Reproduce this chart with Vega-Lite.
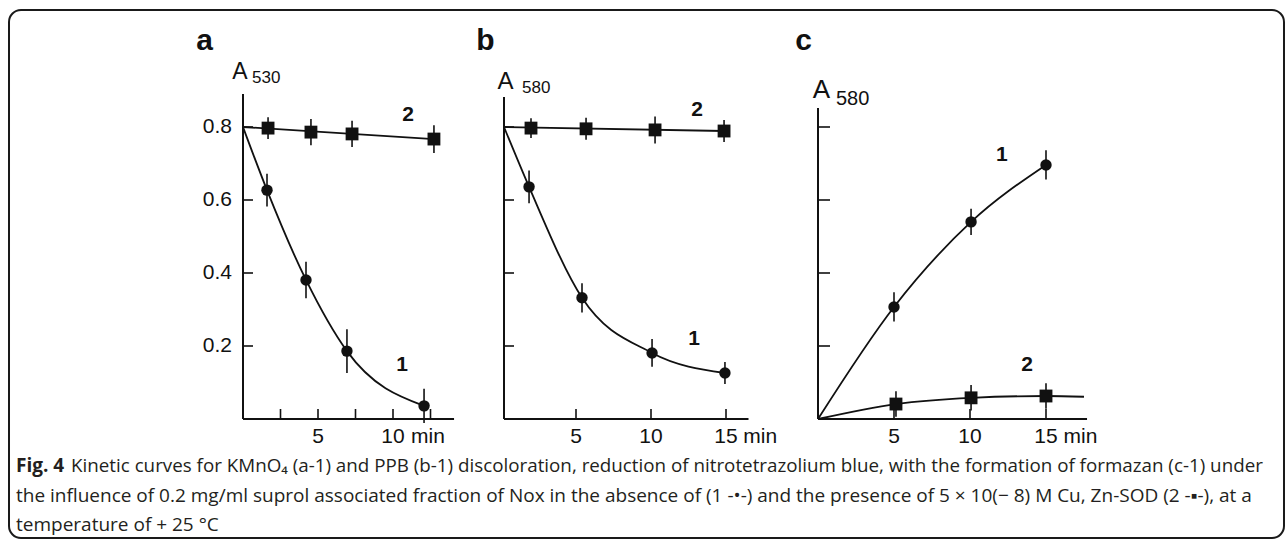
{
  "$schema": "https://vega.github.io/schema/vega-lite/v6.json",
  "background": "white",
  "padding": {"left": 8, "top": 9, "right": 0, "bottom": 0},
  "config": {
    "view": {"stroke": null},
    "axis": {"grid": false, "domain": false, "ticks": false},
    "text": {"font": "Liberation Sans", "color": "#111"}
  },
  "datasets": {
    "pts": [
      {"panel": "a", "series": 1, "t": 1.6, "v": 0.627, "err": 0.045},
      {"panel": "a", "series": 1, "t": 4.2, "v": 0.381, "err": 0.05},
      {"panel": "a", "series": 1, "t": 6.93, "v": 0.186, "err": 0.06},
      {"panel": "a", "series": 1, "t": 12.07, "v": 0.036, "err": 0.047},
      {"panel": "a", "series": 2, "t": 1.67, "v": 0.797, "err": 0.03},
      {"panel": "a", "series": 2, "t": 4.53, "v": 0.786, "err": 0.036},
      {"panel": "a", "series": 2, "t": 7.27, "v": 0.781, "err": 0.036},
      {"panel": "a", "series": 2, "t": 12.73, "v": 0.767, "err": 0.038},
      {"panel": "b", "series": 1, "t": 1.87, "v": 0.636, "err": 0.045},
      {"panel": "b", "series": 1, "t": 5.4, "v": 0.332, "err": 0.04},
      {"panel": "b", "series": 1, "t": 10.07, "v": 0.181, "err": 0.038},
      {"panel": "b", "series": 1, "t": 14.93, "v": 0.126, "err": 0.03},
      {"panel": "b", "series": 2, "t": 2.0, "v": 0.797, "err": 0.027},
      {"panel": "b", "series": 2, "t": 5.67, "v": 0.795, "err": 0.03},
      {"panel": "b", "series": 2, "t": 10.27, "v": 0.792, "err": 0.037},
      {"panel": "b", "series": 2, "t": 14.87, "v": 0.789, "err": 0.03},
      {"panel": "c", "series": 1, "t": 5.0, "v": 0.307, "err": 0.04},
      {"panel": "c", "series": 1, "t": 10.07, "v": 0.54, "err": 0.036},
      {"panel": "c", "series": 1, "t": 15.0, "v": 0.696, "err": 0.04},
      {"panel": "c", "series": 2, "t": 5.13, "v": 0.041, "err": 0.035},
      {"panel": "c", "series": 2, "t": 10.07, "v": 0.058, "err": 0.035},
      {"panel": "c", "series": 2, "t": 15.0, "v": 0.063, "err": 0.035}
    ],
    "curves": [
      {"panel": "a", "series": 1, "t": 0, "v": 0.8},
      {"panel": "a", "series": 1, "t": 1.6, "v": 0.627},
      {"panel": "a", "series": 1, "t": 4.2, "v": 0.381},
      {"panel": "a", "series": 1, "t": 6.93, "v": 0.186},
      {"panel": "a", "series": 1, "t": 12.07, "v": 0.036},
      {"panel": "a", "series": 2, "t": 0, "v": 0.8},
      {"panel": "a", "series": 2, "t": 12.73, "v": 0.767},
      {"panel": "b", "series": 1, "t": 0.2, "v": 0.8},
      {"panel": "b", "series": 1, "t": 1.87, "v": 0.636},
      {"panel": "b", "series": 1, "t": 5.4, "v": 0.332},
      {"panel": "b", "series": 1, "t": 10.07, "v": 0.181},
      {"panel": "b", "series": 1, "t": 14.93, "v": 0.126},
      {"panel": "b", "series": 2, "t": 0.2, "v": 0.8},
      {"panel": "b", "series": 2, "t": 14.87, "v": 0.789},
      {"panel": "c", "series": 1, "t": 0, "v": 0},
      {"panel": "c", "series": 1, "t": 5.0, "v": 0.307},
      {"panel": "c", "series": 1, "t": 10.07, "v": 0.54},
      {"panel": "c", "series": 1, "t": 15.0, "v": 0.696},
      {"panel": "c", "series": 2, "t": 0, "v": 0},
      {"panel": "c", "series": 2, "t": 5.13, "v": 0.041},
      {"panel": "c", "series": 2, "t": 10.07, "v": 0.058},
      {"panel": "c", "series": 2, "t": 15.0, "v": 0.063},
      {"panel": "c", "series": 2, "t": 17.5, "v": 0.061}
    ],
    "yticks": [{"v": 0.2}, {"v": 0.4}, {"v": 0.6}, {"v": 0.8}],
    "xticks": [
      {"panel": "a", "t": 2.5, "label": ""}, {"panel": "a", "t": 5, "label": "5"}, {"panel": "a", "t": 7.5, "label": ""}, {"panel": "a", "t": 10, "label": "10"}, {"panel": "a", "t": 12.5, "label": ""},
      {"panel": "b", "t": 5, "label": "5"}, {"panel": "b", "t": 10, "label": "10"}, {"panel": "b", "t": 15, "label": "15"},
      {"panel": "c", "t": 5, "label": "5"}, {"panel": "c", "t": 10, "label": "10"}, {"panel": "c", "t": 15, "label": "15"}
    ]
  },
  "bounds": "flush",
  "spacing": 0,
  "hconcat": [
    {
      "width": 496, "height": 325,
      "layer": [
        {"data": {"values": [{}]}, "mark": {"type": "rect", "filled": false, "stroke": "#1a1a1a", "strokeWidth": 2, "cornerRadius": 12},
         "encoding": {"x": {"datum": -15.6, "type": "quantitative", "scale": {"domain": [-15.667, 17.4], "nice": false, "zero": false}, "axis": null}, "x2": {"datum": 69.4},
                      "y": {"datum": 1.1205, "type": "quantitative", "scale": {"domain": [0, 0.8904], "nice": false, "zero": false}, "axis": null}, "y2": {"datum": -0.326}}},
        {"data": {"values": [{}]}, "mark": {"type": "rule", "color": "#111", "strokeWidth": 2},
         "encoding": {"x": {"datum": 0, "type": "quantitative", "axis": null}, "x2": {"datum": 14.07}, "y": {"datum": 0, "type": "quantitative", "axis": null}}},
        {"data": {"values": [{}]}, "mark": {"type": "rule", "color": "#111", "strokeWidth": 2},
         "encoding": {"x": {"datum": 0, "type": "quantitative", "axis": null}, "y": {"datum": 0, "type": "quantitative", "axis": null}, "y2": {"datum": 0.8904}}},
        {"data": {"name": "yticks"}, "mark": {"type": "rule", "color": "#111", "strokeWidth": 1.6},
         "encoding": {"x": {"datum": 0, "type": "quantitative", "axis": null}, "x2": {"datum": 0.667}, "y": {"field": "v", "type": "quantitative", "axis": null}}},
        {"data": {"name": "yticks"}, "mark": {"type": "text", "align": "right", "baseline": "middle", "dx": -11, "fontSize": 21},
         "encoding": {"x": {"datum": 0, "type": "quantitative", "axis": null}, "y": {"field": "v", "type": "quantitative", "axis": null}, "text": {"field": "v", "type": "quantitative", "format": ".1f"}}},
        {"data": {"name": "xticks"}, "transform": [{"filter": "datum.panel == 'a'"}], "mark": {"type": "rule", "color": "#111", "strokeWidth": 1.6},
         "encoding": {"x": {"field": "t", "type": "quantitative", "axis": null}, "y": {"datum": 0, "type": "quantitative", "axis": null}, "y2": {"datum": 0.0274}}},
        {"data": {"name": "xticks"}, "transform": [{"filter": "datum.panel == 'a' && datum.label != ''"}], "mark": {"type": "text", "align": "center", "baseline": "top", "dy": 7, "fontSize": 21},
         "encoding": {"x": {"field": "t", "type": "quantitative", "axis": null}, "y": {"datum": 0, "type": "quantitative", "axis": null}, "text": {"field": "label"}}},
        {"data": {"values": [{}]}, "mark": {"type": "text", "text": "min", "align": "left", "baseline": "top", "dy": 7, "fontSize": 21},
         "encoding": {"x": {"datum": 11.2, "type": "quantitative", "axis": null}, "y": {"datum": 0, "type": "quantitative", "axis": null}}},
        {"data": {"name": "curves"}, "transform": [{"filter": "datum.panel == 'a'"}], "mark": {"type": "line", "interpolate": "monotone", "color": "#111", "strokeWidth": 1.8},
         "encoding": {"x": {"field": "t", "type": "quantitative", "axis": null}, "y": {"field": "v", "type": "quantitative", "axis": null}, "detail": {"field": "series"}}},
        {"data": {"name": "pts"}, "transform": [{"filter": "datum.panel == 'a'"}], "mark": {"type": "errorbar", "color": "#111", "thickness": 1.6},
         "encoding": {"x": {"field": "t", "type": "quantitative", "axis": null}, "y": {"field": "v", "type": "quantitative", "axis": null}, "yError": {"field": "err"}}},
        {"data": {"name": "pts"}, "transform": [{"filter": "datum.panel == 'a' && datum.series == 1"}], "mark": {"type": "point", "shape": "circle", "filled": true, "size": 130, "color": "#111", "opacity": 1},
         "encoding": {"x": {"field": "t", "type": "quantitative", "axis": null}, "y": {"field": "v", "type": "quantitative", "axis": null}}},
        {"data": {"name": "pts"}, "transform": [{"filter": "datum.panel == 'a' && datum.series == 2"}], "mark": {"type": "point", "shape": "square", "filled": true, "size": 165, "color": "#111", "opacity": 1},
         "encoding": {"x": {"field": "t", "type": "quantitative", "axis": null}, "y": {"field": "v", "type": "quantitative", "axis": null}}},
        {"data": {"values": [{}]}, "mark": {"type": "text", "text": "a", "fontSize": 30, "fontWeight": "bold", "align": "center", "baseline": "alphabetic"},
         "encoding": {"x": {"datum": -2.567, "type": "quantitative", "axis": null}, "y": {"datum": 1.011, "type": "quantitative", "axis": null}}},
        {"data": {"values": [{}]}, "mark": {"type": "text", "text": "A", "fontSize": 23, "align": "center", "baseline": "alphabetic"},
         "encoding": {"x": {"datum": -0.2, "type": "quantitative", "axis": null}, "y": {"datum": 0.9315, "type": "quantitative", "axis": null}}},
        {"data": {"values": [{}]}, "mark": {"type": "text", "text": "530", "fontSize": 17, "align": "left", "baseline": "alphabetic"},
         "encoding": {"x": {"datum": 0.6, "type": "quantitative", "axis": null}, "y": {"datum": 0.9205, "type": "quantitative", "axis": null}}},
        {"data": {"values": [{}]}, "mark": {"type": "text", "text": "2", "fontSize": 21, "fontWeight": "bold", "align": "center", "baseline": "middle"},
         "encoding": {"x": {"datum": 11.0, "type": "quantitative", "axis": null}, "y": {"datum": 0.833, "type": "quantitative", "axis": null}}},
        {"data": {"values": [{}]}, "mark": {"type": "text", "text": "1", "fontSize": 21, "fontWeight": "bold", "align": "center", "baseline": "middle"},
         "encoding": {"x": {"datum": 10.6, "type": "quantitative", "axis": null}, "y": {"datum": 0.148, "type": "quantitative", "axis": null}}},
        {"data": {"values": [{}]}, "mark": {"type": "text", "text": "Fig. 4", "font": "Open Sans", "fontSize": 19, "fontWeight": "bold", "align": "left", "baseline": "middle", "color": "#231f20"},
         "encoding": {"x": {"datum": -15.133, "type": "quantitative", "axis": null}, "y": {"datum": -0.1288, "type": "quantitative", "axis": null}}},
        {"data": {"values": [{}]}, "mark": {"type": "text", "text": "Kinetic curves for KMnO₄ (a-1) and PPB (b-1) discoloration, reduction of nitrotetrazolium blue, with the formation of formazan (c-1) under", "dx": 55, "font": "Open Sans", "fontSize": 18.8, "align": "left", "baseline": "middle", "color": "#231f20"},
         "encoding": {"x": {"datum": -15.133, "type": "quantitative", "axis": null}, "y": {"datum": -0.1288, "type": "quantitative", "axis": null}}},
        {"data": {"values": [{}]}, "mark": {"type": "text", "text": "the influence of 0.2 mg/ml suprol associated fraction of Nox in the absence of (1 -•-) and the presence of 5 × 10(− 8) M Cu, Zn-SOD (2 -▪-), at a", "font": "Open Sans", "fontSize": 19, "align": "left", "baseline": "middle", "color": "#231f20"},
         "encoding": {"x": {"datum": -15.133, "type": "quantitative", "axis": null}, "y": {"datum": -0.211, "type": "quantitative", "axis": null}}},
        {"data": {"values": [{}]}, "mark": {"type": "text", "text": "temperature of + 25 °C", "font": "Open Sans", "fontSize": 19, "align": "left", "baseline": "middle", "color": "#231f20"},
         "encoding": {"x": {"datum": -15.133, "type": "quantitative", "axis": null}, "y": {"datum": -0.2904, "type": "quantitative", "axis": null}}}
      ]
    },
    {
      "width": 314, "height": 325,
      "layer": [
        {"data": {"values": [{}]}, "mark": {"type": "rule", "color": "#111", "strokeWidth": 2},
         "encoding": {"x": {"datum": 0.2, "type": "quantitative", "scale": {"domain": [0.2, 21.133], "nice": false, "zero": false}, "axis": null}, "x2": {"datum": 16.5},
                      "y": {"datum": 0, "type": "quantitative", "scale": {"domain": [0, 0.8904], "nice": false, "zero": false}, "axis": null}}},
        {"data": {"values": [{}]}, "mark": {"type": "rule", "color": "#111", "strokeWidth": 2},
         "encoding": {"x": {"datum": 0.2, "type": "quantitative", "axis": null}, "y": {"datum": 0, "type": "quantitative", "axis": null}, "y2": {"datum": 0.882}}},
        {"data": {"name": "yticks"}, "mark": {"type": "rule", "color": "#111", "strokeWidth": 1.6},
         "encoding": {"x": {"datum": 0.2, "type": "quantitative", "axis": null}, "x2": {"datum": 0.867}, "y": {"field": "v", "type": "quantitative", "axis": null}}},
        {"data": {"name": "xticks"}, "transform": [{"filter": "datum.panel == 'b'"}], "mark": {"type": "rule", "color": "#111", "strokeWidth": 1.6},
         "encoding": {"x": {"field": "t", "type": "quantitative", "axis": null}, "y": {"datum": 0, "type": "quantitative", "axis": null}, "y2": {"datum": 0.0274}}},
        {"data": {"name": "xticks"}, "transform": [{"filter": "datum.panel == 'b' && datum.label != ''"}], "mark": {"type": "text", "align": "center", "baseline": "top", "dy": 7, "fontSize": 21},
         "encoding": {"x": {"field": "t", "type": "quantitative", "axis": null}, "y": {"datum": 0, "type": "quantitative", "axis": null}, "text": {"field": "label"}}},
        {"data": {"values": [{}]}, "mark": {"type": "text", "text": "min", "align": "left", "baseline": "top", "dy": 7, "fontSize": 21},
         "encoding": {"x": {"datum": 16.15, "type": "quantitative", "axis": null}, "y": {"datum": 0, "type": "quantitative", "axis": null}}},
        {"data": {"name": "curves"}, "transform": [{"filter": "datum.panel == 'b'"}], "mark": {"type": "line", "interpolate": "monotone", "color": "#111", "strokeWidth": 1.8},
         "encoding": {"x": {"field": "t", "type": "quantitative", "axis": null}, "y": {"field": "v", "type": "quantitative", "axis": null}, "detail": {"field": "series"}}},
        {"data": {"name": "pts"}, "transform": [{"filter": "datum.panel == 'b'"}], "mark": {"type": "errorbar", "color": "#111", "thickness": 1.6},
         "encoding": {"x": {"field": "t", "type": "quantitative", "axis": null}, "y": {"field": "v", "type": "quantitative", "axis": null}, "yError": {"field": "err"}}},
        {"data": {"name": "pts"}, "transform": [{"filter": "datum.panel == 'b' && datum.series == 1"}], "mark": {"type": "point", "shape": "circle", "filled": true, "size": 130, "color": "#111", "opacity": 1},
         "encoding": {"x": {"field": "t", "type": "quantitative", "axis": null}, "y": {"field": "v", "type": "quantitative", "axis": null}}},
        {"data": {"name": "pts"}, "transform": [{"filter": "datum.panel == 'b' && datum.series == 2"}], "mark": {"type": "point", "shape": "square", "filled": true, "size": 165, "color": "#111", "opacity": 1},
         "encoding": {"x": {"field": "t", "type": "quantitative", "axis": null}, "y": {"field": "v", "type": "quantitative", "axis": null}}},
        {"data": {"values": [{}]}, "mark": {"type": "text", "text": "b", "fontSize": 30, "fontWeight": "bold", "align": "center", "baseline": "alphabetic"},
         "encoding": {"x": {"datum": -1.033, "type": "quantitative", "axis": null}, "y": {"datum": 1.011, "type": "quantitative", "axis": null}}},
        {"data": {"values": [{}]}, "mark": {"type": "text", "text": "A", "fontSize": 24, "align": "center", "baseline": "alphabetic"},
         "encoding": {"x": {"datum": 0.3, "type": "quantitative", "axis": null}, "y": {"datum": 0.904, "type": "quantitative", "axis": null}}},
        {"data": {"values": [{}]}, "mark": {"type": "text", "text": "580", "fontSize": 17, "align": "left", "baseline": "alphabetic"},
         "encoding": {"x": {"datum": 1.4, "type": "quantitative", "axis": null}, "y": {"datum": 0.893, "type": "quantitative", "axis": null}}},
        {"data": {"values": [{}]}, "mark": {"type": "text", "text": "2", "fontSize": 21, "fontWeight": "bold", "align": "center", "baseline": "middle"},
         "encoding": {"x": {"datum": 13.07, "type": "quantitative", "axis": null}, "y": {"datum": 0.847, "type": "quantitative", "axis": null}}},
        {"data": {"values": [{}]}, "mark": {"type": "text", "text": "1", "fontSize": 21, "fontWeight": "bold", "align": "center", "baseline": "middle"},
         "encoding": {"x": {"datum": 12.87, "type": "quantitative", "axis": null}, "y": {"datum": 0.219, "type": "quantitative", "axis": null}}}
      ]
    },
    {
      "width": 300, "height": 325,
      "layer": [
        {"data": {"values": [{}]}, "mark": {"type": "rule", "color": "#111", "strokeWidth": 2},
         "encoding": {"x": {"datum": 0, "type": "quantitative", "scale": {"domain": [0, 19.737], "nice": false, "zero": false}, "axis": null}, "x2": {"datum": 17.7},
                      "y": {"datum": 0, "type": "quantitative", "scale": {"domain": [0, 0.8904], "nice": false, "zero": false}, "axis": null}}},
        {"data": {"values": [{}]}, "mark": {"type": "rule", "color": "#111", "strokeWidth": 2},
         "encoding": {"x": {"datum": 0, "type": "quantitative", "axis": null}, "y": {"datum": 0, "type": "quantitative", "axis": null}, "y2": {"datum": 0.852}}},
        {"data": {"name": "yticks"}, "mark": {"type": "rule", "color": "#111", "strokeWidth": 1.6},
         "encoding": {"x": {"datum": 0, "type": "quantitative", "axis": null}, "x2": {"datum": 0.79}, "y": {"field": "v", "type": "quantitative", "axis": null}}},
        {"data": {"name": "xticks"}, "transform": [{"filter": "datum.panel == 'c'"}], "mark": {"type": "rule", "color": "#111", "strokeWidth": 1.6},
         "encoding": {"x": {"field": "t", "type": "quantitative", "axis": null}, "y": {"datum": 0, "type": "quantitative", "axis": null}, "y2": {"datum": 0.0274}}},
        {"data": {"name": "xticks"}, "transform": [{"filter": "datum.panel == 'c' && datum.label != ''"}], "mark": {"type": "text", "align": "center", "baseline": "top", "dy": 7, "fontSize": 21},
         "encoding": {"x": {"field": "t", "type": "quantitative", "axis": null}, "y": {"datum": 0, "type": "quantitative", "axis": null}, "text": {"field": "label"}}},
        {"data": {"values": [{}]}, "mark": {"type": "text", "text": "min", "align": "left", "baseline": "top", "dy": 7, "fontSize": 21},
         "encoding": {"x": {"datum": 16.15, "type": "quantitative", "axis": null}, "y": {"datum": 0, "type": "quantitative", "axis": null}}},
        {"data": {"name": "curves"}, "transform": [{"filter": "datum.panel == 'c'"}], "mark": {"type": "line", "interpolate": "monotone", "color": "#111", "strokeWidth": 1.8},
         "encoding": {"x": {"field": "t", "type": "quantitative", "axis": null}, "y": {"field": "v", "type": "quantitative", "axis": null}, "detail": {"field": "series"}}},
        {"data": {"name": "pts"}, "transform": [{"filter": "datum.panel == 'c'"}], "mark": {"type": "errorbar", "color": "#111", "thickness": 1.6},
         "encoding": {"x": {"field": "t", "type": "quantitative", "axis": null}, "y": {"field": "v", "type": "quantitative", "axis": null}, "yError": {"field": "err"}}},
        {"data": {"name": "pts"}, "transform": [{"filter": "datum.panel == 'c' && datum.series == 1"}], "mark": {"type": "point", "shape": "circle", "filled": true, "size": 130, "color": "#111", "opacity": 1},
         "encoding": {"x": {"field": "t", "type": "quantitative", "axis": null}, "y": {"field": "v", "type": "quantitative", "axis": null}}},
        {"data": {"name": "pts"}, "transform": [{"filter": "datum.panel == 'c' && datum.series == 2"}], "mark": {"type": "point", "shape": "square", "filled": true, "size": 165, "color": "#111", "opacity": 1},
         "encoding": {"x": {"field": "t", "type": "quantitative", "axis": null}, "y": {"field": "v", "type": "quantitative", "axis": null}}},
        {"data": {"values": [{}]}, "mark": {"type": "text", "text": "c", "fontSize": 30, "fontWeight": "bold", "align": "center", "baseline": "alphabetic"},
         "encoding": {"x": {"datum": -0.954, "type": "quantitative", "axis": null}, "y": {"datum": 1.011, "type": "quantitative", "axis": null}}},
        {"data": {"values": [{}]}, "mark": {"type": "text", "text": "A", "fontSize": 26, "align": "center", "baseline": "alphabetic"},
         "encoding": {"x": {"datum": 0.23, "type": "quantitative", "axis": null}, "y": {"datum": 0.8795, "type": "quantitative", "axis": null}}},
        {"data": {"values": [{}]}, "mark": {"type": "text", "text": "580", "fontSize": 20, "align": "left", "baseline": "alphabetic"},
         "encoding": {"x": {"datum": 1.184, "type": "quantitative", "axis": null}, "y": {"datum": 0.86, "type": "quantitative", "axis": null}}},
        {"data": {"values": [{}]}, "mark": {"type": "text", "text": "1", "fontSize": 21, "fontWeight": "bold", "align": "center", "baseline": "middle"},
         "encoding": {"x": {"datum": 12.1, "type": "quantitative", "axis": null}, "y": {"datum": 0.723, "type": "quantitative", "axis": null}}},
        {"data": {"values": [{}]}, "mark": {"type": "text", "text": "2", "fontSize": 21, "fontWeight": "bold", "align": "center", "baseline": "middle"},
         "encoding": {"x": {"datum": 13.75, "type": "quantitative", "axis": null}, "y": {"datum": 0.148, "type": "quantitative", "axis": null}}}
      ]
    }
  ]
}
